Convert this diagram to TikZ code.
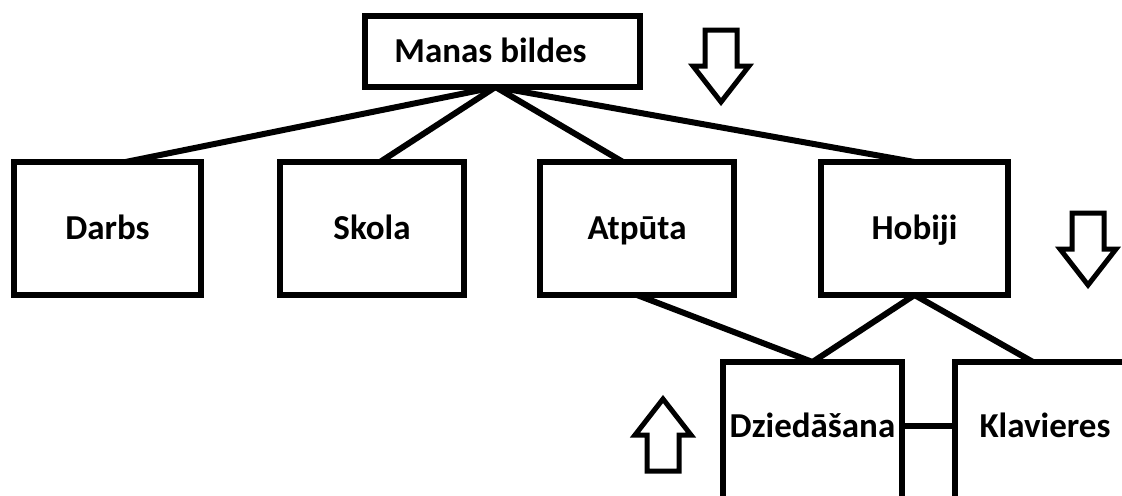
\documentclass[tikz,border=0pt]{standalone}
\usepackage{fontspec}
\setmainfont{Carlito}

\tikzset{
  BoxStyle/.style={draw, line width=3.2pt, inner sep=0pt, outer sep=0pt,
    font=\fontsize{17.5}{20}\selectfont\bfseries},
  UpperBox/.style={BoxStyle, text height=38.5pt, text depth=28pt},
  LowerBox/.style={BoxStyle, anchor=north, text height=37.5pt, text depth=46.5pt},
  EdgeStyle/.style={line width=3pt},
  blockarrow/.pic={
    \draw[line width=2.5pt, line join=miter] (0,0) -- (-28,-36) -- (-16,-36)
      -- (-16,-72) -- (16,-72) -- (16,-36) -- (28,-36) -- cycle;}
}

\begin{document}
\begin{tikzpicture}[x=0.5pt, y=-0.5pt]
\useasboundingbox (0,0) rectangle (1122,495);
\clip (0,0) rectangle (1122,495);
% boxes
\node[BoxStyle, anchor=north, minimum width=137.5pt, text height=23pt, text depth=12.5pt] (bildes) at (502.5,16) {\hspace*{-12pt}Manas bildes};
\node[UpperBox, anchor=north, minimum width=93.5pt] (darbs) at (107.5,162) {Darbs};
\node[UpperBox, anchor=north, minimum width=92pt] (skola) at (372,162) {Skola};
\node[UpperBox, anchor=north, minimum width=97pt] (atputa) at (637,162) {Atpūta};
\node[UpperBox, anchor=north, minimum width=93.5pt] (hobiji) at (914.5,162) {Hobiji};
\node[LowerBox, minimum width=89.5pt] (dziedasana) at (812.5,362) {Dziedāšana};
\node[LowerBox, minimum width=90pt] (klavieres) at (1045,362) {Klavieres};
% connectors
\draw[EdgeStyle] ([xshift=-3.5pt]bildes.south) -- ([xshift=9pt]darbs.north);
\draw[EdgeStyle] ([xshift=-3.5pt]bildes.south) -- ([xshift=4pt]skola.north);
\draw[EdgeStyle] ([xshift=-3.5pt]bildes.south) -- ([xshift=-7pt]atputa.north);
\draw[EdgeStyle] ([xshift=-3.5pt]bildes.south) -- (hobiji.north);
\draw[EdgeStyle] (atputa.south) -- (dziedasana.north);
\draw[EdgeStyle] (hobiji.south) -- (dziedasana.north);
\draw[EdgeStyle] (hobiji.south) -- ([xshift=-6pt]klavieres.north);
\draw[EdgeStyle] ([yshift=5.5pt]dziedasana.base east) -- ([yshift=5.5pt]klavieres.base west);
% arrows
\pic at (721,102) {blockarrow};
\pic at (1088,285) {blockarrow};
\pic[rotate=180] at (663,399) {blockarrow};
\end{tikzpicture}
\end{document}
